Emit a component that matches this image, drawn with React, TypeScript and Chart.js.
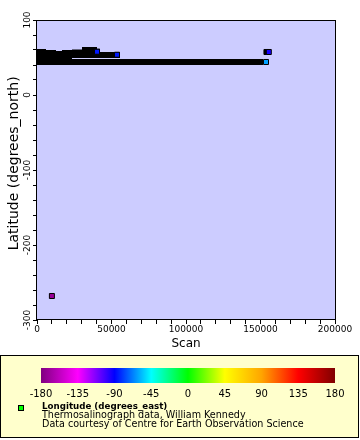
import React, { useEffect, useRef } from 'react';
import { Chart, registerables } from 'chart.js';

Chart.register(...registerables);

// ---- data ----
// dense ship track along ~44N, drawn as a lat envelope
const bandScan = [0, 151700];
const bandTopLat = [48, 48];
const bandBottomLat = [40, 40];

// dense cluster of track points at the start of the record (lat envelope, stepwise)
const clusterScan = [0, 6040, 12750, 16780, 23490, 30200, 40270, 42280, 55700];
const clusterTopLat = [61.33, 60, 58.67, 60, 60.67, 64, 61.67, 57.33, 57.33];
const clusterBottomLat = [48, 48, 48, 48, 49.33, 49.33, 49.33, 49.33, 49.33];

// track point whose fill is hidden under its neighbour
const hiddenScan = [154000];
const hiddenLat = [57.33];

// individually visible points, coloured by longitude
const markerScan = [10000, 40270, 53690, 153690, 155570];
const markerLat = [-268, 57.7, 53.7, 44, 57.33];
const markerLon = [-172, -86, -86, -62, -94];

// colour bar
const colorbarStops = [-180, -135, -90, -45, 0, 45, 90, 135, 180];
const colorbarColors = ['#800080', '#ff00ff', '#0000ff', '#00ffff', '#00ff00', '#ffff00', '#ffa500', '#ff0000', '#800000'];
const colorbarTicks = [-180, -135, -90, -45, 0, 45, 90, 135, 180];

const xTitle = 'Scan';
const yTitle = '   Latitude (degrees_north)';
const legendTitle = 'Longitude (degrees_east)';
const legendLines = ['Thermosalinograph data, William Kennedy', 'Data courtesy of Centre for Earth Observation Science'];

const FONT = 'DejaVu Sans';

function hexToRgb(h: string) {
  const n = parseInt(h.slice(1), 16);
  return [(n >> 16) & 255, (n >> 8) & 255, n & 255];
}

function lonToColor(v: number) {
  for (let i = 0; i < colorbarStops.length - 1; i++) {
    const a = colorbarStops[i];
    const b = colorbarStops[i + 1];
    if (v >= a && v <= b) {
      const t = (v - a) / (b - a);
      const c1 = hexToRgb(colorbarColors[i]);
      const c2 = hexToRgb(colorbarColors[i + 1]);
      const c = c1.map((x, k) => Math.round(x + (c2[k] - x) * t));
      return `rgb(${c[0]},${c[1]},${c[2]})`;
    }
  }
  return '#000';
}

const decorPlugin = {
  id: 'decor',
  beforeDraw(chart: any) {
    const { ctx, chartArea: a } = chart;
    ctx.save();
    ctx.fillStyle = '#ffffff';
    ctx.fillRect(0, 0, chart.width, chart.height);
    ctx.fillStyle = '#ccccff';
    ctx.fillRect(a.left, a.top, a.right - a.left, a.bottom - a.top);
    ctx.restore();
  },
  afterDraw(chart: any) {
    const { ctx, chartArea: a } = chart;
    ctx.save();
    ctx.strokeStyle = '#000';
    ctx.lineWidth = 1;
    ctx.strokeRect(a.left - 0.5, a.top + 0.5, a.right - a.left + 1, a.bottom - a.top - 1);

    // legend box
    ctx.fillStyle = '#ffffcc';
    ctx.fillRect(0.5, 355.5, 358, 82);
    ctx.strokeRect(0.5, 355.5, 358, 82);

    // colour bar
    const x0 = 41, x1 = 335, y0 = 368, y1 = 383;
    const lo = colorbarStops[0];
    const hi = colorbarStops[colorbarStops.length - 1];
    const g = ctx.createLinearGradient(x0, 0, x1, 0);
    colorbarStops.forEach((s, i) => g.addColorStop((s - lo) / (hi - lo), colorbarColors[i]));
    ctx.fillStyle = g;
    ctx.fillRect(x0, y0, x1 - x0, y1 - y0);

    ctx.fillStyle = '#000';
    ctx.font = `10px "${FONT}"`;
    ctx.textAlign = 'center';
    ctx.textBaseline = 'alphabetic';
    colorbarTicks.forEach((t) => {
      const x = x0 + ((t - lo) / (hi - lo)) * (x1 - x0);
      ctx.fillText(String(t), x, 396.5);
    });

    // legend sample marker
    ctx.fillStyle = lonToColor(0);
    ctx.fillRect(18.5, 405.5, 5, 5);
    ctx.strokeRect(18.5, 405.5, 5, 5);

    ctx.fillStyle = '#000';
    ctx.textAlign = 'left';
    ctx.font = `bold 8.7px "${FONT}"`;
    ctx.fillText(legendTitle, 42, 409);
    ctx.font = `9.6px "${FONT}"`;
    ctx.fillText(legendLines[0], 42, 418);
    ctx.fillText(legendLines[1], 42, 426.5);
    ctx.restore();
  },
};

export default function App() {
  const ref = useRef<HTMLCanvasElement | null>(null);

  useEffect(() => {
    if (!ref.current) return;
    Chart.defaults.font.family = FONT;
    const pts = (xs: number[], ys: number[]) => xs.map((x, i) => ({ x, y: ys[i] }));
    const envelope = {
      type: 'line' as const,
      showLine: true,
      pointRadius: 0,
      borderWidth: 0,
      borderColor: 'rgba(0,0,0,0)',
      backgroundColor: '#000000',
      stepped: true,
      tension: 0,
      clip: 0,
    };
    const chart = new Chart(ref.current, {
      type: 'scatter',
      data: {
        datasets: [
          {
            label: 'Longitude',
            data: pts(markerScan, markerLat),
            pointStyle: 'rect',
            pointRadius: 3.54,
            pointBackgroundColor: markerLon.map(lonToColor),
            pointBorderColor: '#000',
            pointBorderWidth: 1,
            clip: 0,
          } as any,
          {
            label: 'hidden',
            data: pts(hiddenScan, hiddenLat),
            pointStyle: 'rect',
            pointRadius: 3.54,
            pointBackgroundColor: '#000',
            pointBorderColor: '#000',
            pointBorderWidth: 1,
            clip: 0,
          } as any,
          { ...envelope, label: 'clusterTop', data: pts(clusterScan, clusterTopLat), fill: '+1' } as any,
          { ...envelope, label: 'clusterBottom', data: pts(clusterScan, clusterBottomLat), fill: false } as any,
          { ...envelope, label: 'bandTop', data: pts(bandScan, bandTopLat), fill: '+1' } as any,
          { ...envelope, label: 'bandBottom', data: pts(bandScan, bandBottomLat), fill: false } as any,
        ],
      },
      options: {
        animation: false,
        responsive: true,
        maintainAspectRatio: false,
        layout: { padding: { left: 0, top: 20, right: 25, bottom: 90 } },
        plugins: { legend: { display: false }, tooltip: { enabled: false } },
        scales: {
          x: {
            type: 'linear',
            position: 'bottom',
            min: 0,
            max: 200000,
            border: { display: false },
            grid: { display: true, drawOnChartArea: false, drawTicks: true, tickLength: 4, color: '#000', tickColor: '#000' },
            ticks: {
              stepSize: 10000,
              maxTicksLimit: 25,
              autoSkip: false,
              minRotation: 0,
              maxRotation: 0,
              padding: 0,
              color: '#000',
              font: { family: FONT, size: 9 },
              callback: (v: any) => (Number(v) % 50000 === 0 ? String(v) : ''),
            },
            title: { display: true, text: xTitle, color: '#000', font: { family: FONT, size: 12, lineHeight: 1 }, padding: { top: 0, bottom: 0 } },
            afterFit: (s: any) => { s.height = 30; },
          },
          y: {
            type: 'linear',
            min: -300,
            max: 100,
            border: { display: false },
            grid: { display: true, drawOnChartArea: false, drawTicks: true, tickLength: 4, color: '#000', tickColor: '#000' },
            ticks: {
              stepSize: 20,
              maxTicksLimit: 25,
              autoSkip: false,
              minRotation: 90,
              maxRotation: 90,
              crossAlign: 'center',
              padding: -5,
              color: '#000',
              font: { family: FONT, size: 9 },
              callback: (v: any) => (Number(v) % 100 === 0 ? String(v) : ''),
            },
            title: { display: true, text: yTitle, color: '#000', font: { family: FONT, size: 14, lineHeight: 1.2 }, padding: { top: 6, bottom: 0 } },
            afterFit: (s: any) => { s.width = 37; },
          },
        },
      },
      plugins: [decorPlugin],
    });
    return () => chart.destroy();
  }, []);

  return (
    <div style={{ position: 'absolute', left: 0, top: 0, width: 360, height: 440 }}>
      <canvas ref={ref} />
    </div>
  );
}
